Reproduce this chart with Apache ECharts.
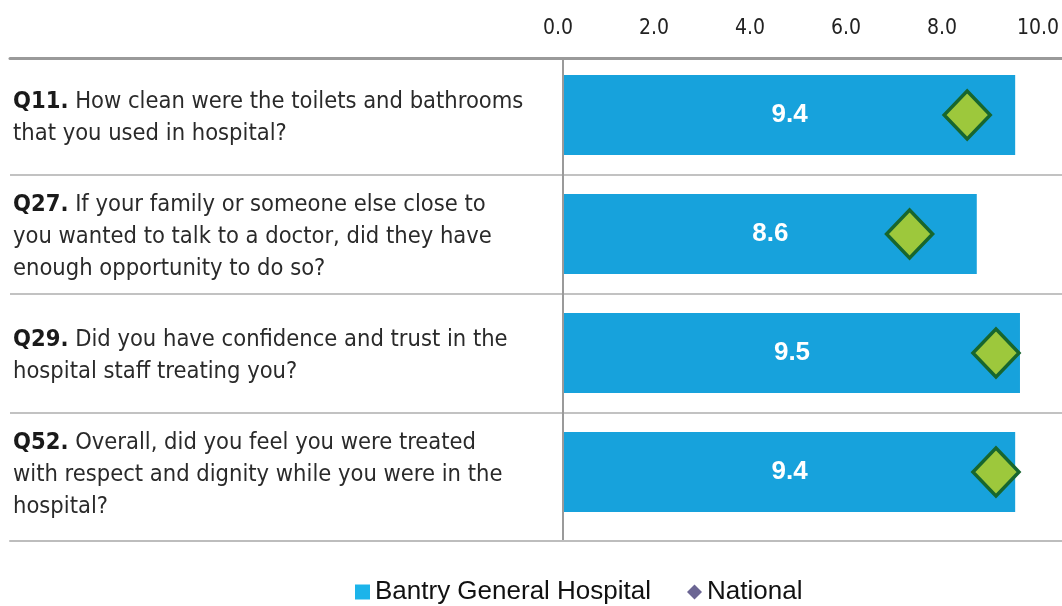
<!DOCTYPE html>
<html>
<head>
<meta charset="utf-8">
<script src="https://cdn.jsdelivr.net/npm/echarts@6/dist/echarts.min.js"></script>
<style>
html,body{margin:0;padding:0;background:#fff;}
#chart{width:1062px;height:606px;}
</style>
</head>
<body>
<div id="chart"></div>
<script>
// ---- data ----
var codes = ['Q11.', 'Q27.', 'Q29.', 'Q52.'];
var questions = [
  'How clean were the toilets and bathrooms\nthat you used in hospital?',
  'If your family or someone else close to\nyou wanted to talk to a doctor, did they have\nenough opportunity to do so?',
  'Did you have confidence and trust in the\nhospital staff treating you?',
  'Overall, did you feel you were treated\nwith respect and dignity while you were in the\nhospital?'
];
var hospitalScores = [9.4, 8.6, 9.5, 9.4];
var nationalScores = [8.4, 7.2, 9.0, 9.0];
var seriesNames = ['Bantry General Hospital', 'National'];
var axisMin = 0, axisMax = 10, axisInterval = 2;

var condensed = '"Liberation Sans Narrow", "DejaVu Sans Condensed", "Roboto Condensed", sans-serif';
var arial = '"Liberation Sans", Arial, sans-serif';

var chart = echarts.init(document.getElementById('chart'), null, {renderer: 'canvas'});

function buildLabel(value) {
  var i = codes.indexOf(value);
  var lines = questions[i].split('\n');
  var out = '{q|' + codes[i] + '}{t| ' + lines[0] + '}';
  for (var k = 1; k < lines.length; k++) out += '\n{t|' + lines[k] + '}';
  return out;
}

var hidden = {axisLine: {show: false}, axisTick: {show: false}, axisLabel: {show: false}, splitLine: {show: false}};

var option = {
  backgroundColor: '#ffffff',
  animation: false,
  grid: [
    {left: 564, right: 16, top: 55.5, height: 476},   // bars
    {left: 10, right: 0, top: 55.5, height: 476},     // separators + question labels
    {left: 10, right: 0, top: 58, bottom: 65},        // top & bottom rules
    {left: 563, width: 1, top: 58, bottom: 65}        // vertical rule
  ],
  xAxis: [
    {
      gridIndex: 0, type: 'value', position: 'top',
      min: axisMin, max: axisMax, interval: axisInterval,
      axisLine: {show: false}, axisTick: {show: false}, splitLine: {show: false},
      axisLabel: {
        show: true, margin: 16, color: '#222',
        fontFamily: condensed, fontSize: 21,
        padding: [0, 12, 0, 0],
        formatter: function (v) { return v.toFixed(1); }
      }
    },
    Object.assign({gridIndex: 1, type: 'value', min: 0, max: 1}, hidden),
    {
      gridIndex: 2, type: 'value', position: 'top', min: 0, max: 1,
      axisLine: {show: true, onZero: false, lineStyle: {color: '#9a9a9a', width: 3}},
      axisTick: {show: false}, axisLabel: {show: false}, splitLine: {show: false}
    },
    {
      gridIndex: 2, type: 'value', position: 'bottom', min: 0, max: 1,
      axisLine: {show: true, onZero: false, lineStyle: {color: '#bdbdbd', width: 2}},
      axisTick: {show: false}, axisLabel: {show: false}, splitLine: {show: false}
    },
    Object.assign({gridIndex: 3, type: 'value', min: 0, max: 1}, hidden)
  ],
  yAxis: [
    Object.assign({gridIndex: 0, type: 'category', inverse: true, data: codes}, hidden),
    {
      gridIndex: 1, type: 'category', inverse: true, data: codes,
      axisLine: {show: false}, axisTick: {show: false},
      splitLine: {show: true, showMinLine: false, showMaxLine: false, lineStyle: {color: '#c2c2c2', width: 2}},
      axisLabel: {
        show: true, inside: true, margin: 3, align: 'left',
        padding: [6, 0, 0, 0],
        formatter: buildLabel,
        rich: {
          q: {fontFamily: condensed, fontWeight: 'bold', fontSize: 23.5, color: '#1a1a1a', lineHeight: 32},
          t: {fontFamily: condensed, fontSize: 23.5, color: '#2a2a2a', lineHeight: 32}
        }
      }
    },
    Object.assign({gridIndex: 2, type: 'value', min: 0, max: 1}, hidden),
    {
      gridIndex: 3, type: 'value', min: 0, max: 1,
      axisLine: {show: true, onZero: false, lineStyle: {color: '#9a9a9a', width: 2}},
      axisTick: {show: false}, axisLabel: {show: false}, splitLine: {show: false}
    }
  ],
  legend: {
    left: 350, top: 574,
    itemWidth: 15, itemHeight: 15, itemGap: 36,
    textStyle: {fontFamily: arial, fontSize: 26, color: '#111'},
    data: [
      {name: seriesNames[0], icon: 'rect', itemStyle: {color: '#1cb4ea', borderWidth: 0}},
      {name: seriesNames[1], icon: 'diamond', itemStyle: {color: '#6b6593', borderWidth: 0}}
    ]
  },
  series: [
    {
      name: seriesNames[0], type: 'bar', xAxisIndex: 0, yAxisIndex: 0,
      data: hospitalScores, barWidth: 80,
      itemStyle: {color: '#17a2dc'},
      label: {
        show: true, position: 'inside', color: '#ffffff',
        fontFamily: arial, fontWeight: 'bold', fontSize: 26,
        formatter: function (p) { return p.value.toFixed(1); }
      },
      z: 2
    },
    {
      name: seriesNames[1], type: 'scatter', xAxisIndex: 0, yAxisIndex: 0,
      data: nationalScores.map(function (v, i) { return [v, codes[i]]; }),
      symbol: 'diamond', symbolSize: [46, 48],
      itemStyle: {color: '#9dc83c', borderColor: '#17662e', borderWidth: 3.5, opacity: 1},
      z: 3
    }
  ]
};
chart.setOption(option);
</script>
</body>
</html>
